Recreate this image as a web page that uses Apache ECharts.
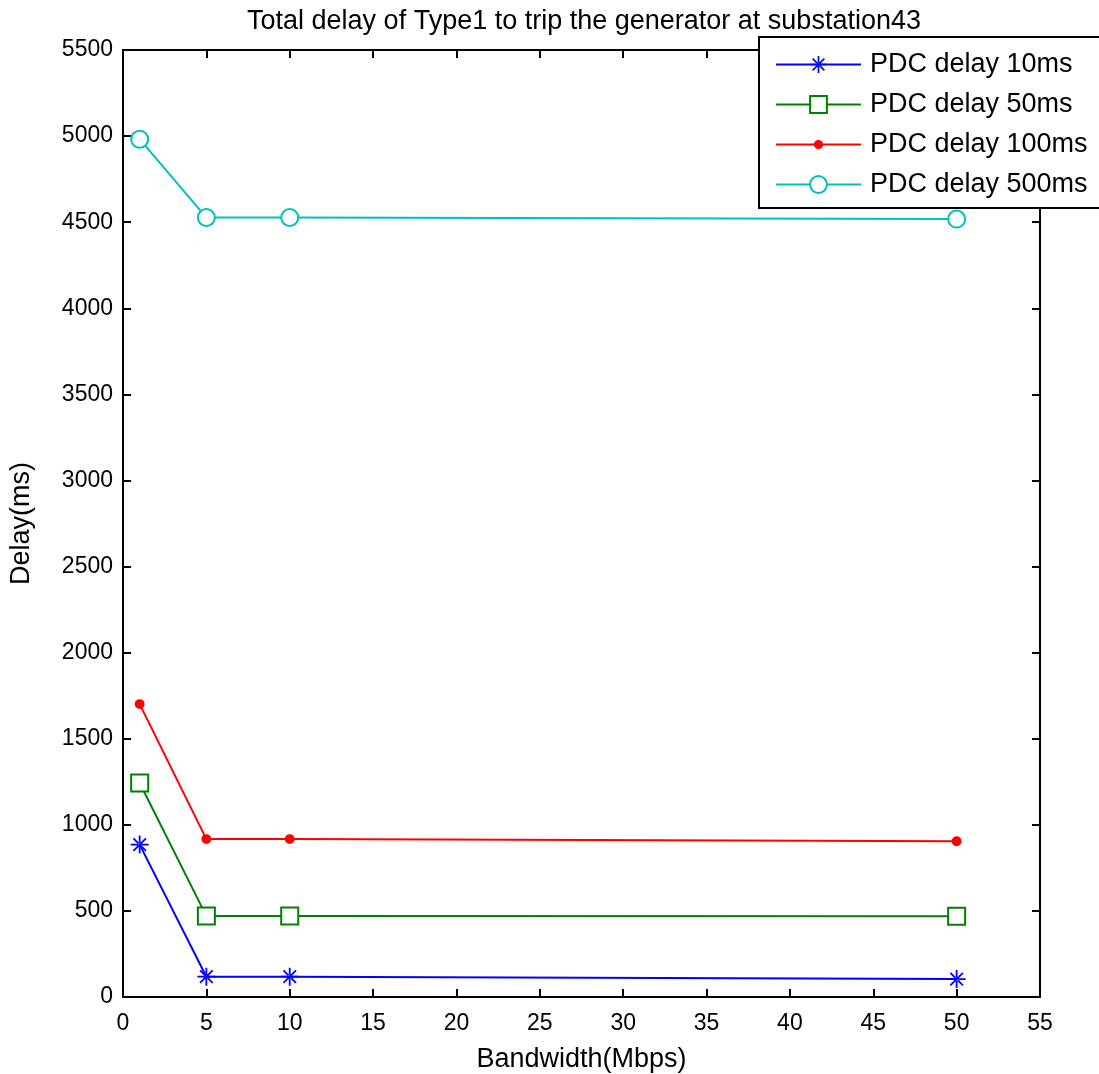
<!DOCTYPE html>
<html>
<head>
<meta charset="utf-8">
<script src="https://cdn.jsdelivr.net/npm/echarts@6/dist/echarts.min.js"></script>
<style>
  html, body { margin: 0; padding: 0; background: #fff; }
  #chart { width: 1099px; height: 1074px; }
</style>
</head>
<body>
<div id="chart"></div>
<script>
// bandwidth values (Mbps)
var bandwidth = [1, 5, 10, 50];
// total delay (ms) for each PDC delay
var delay10 = [885, 118, 118, 104];
var delay50 = [1243, 470, 470, 469];
var delay100 = [1701, 917, 917, 905];
var delay500 = [4982, 4527, 4527, 4518];

var seriesNames = ['PDC delay 10ms', 'PDC delay 50ms', 'PDC delay 100ms', 'PDC delay 500ms'];

function pairs(ys) {
  return bandwidth.map(function (x, i) { return [x, ys[i]]; });
}

// asterisk marker drawn as thin bars
var asterisk = 'path://M-1,-10L1,-10L1,10L-1,10Z' +
  'M-10,-1L10,-1L10,1L-10,1Z' +
  'M-7.7,-6.3L6.3,7.7L7.7,6.3L-6.3,-7.7Z' +
  'M-7.7,6.3L6.3,-7.7L7.7,-6.3L-6.3,7.7Z';
// small dot inside a larger (invisible) box so legend and plot sizes match
var dot = 'path://M-10,-10ZM10,10Z' +
  'M-5.5,0A5.5,5.5,0,1,1,5.5,0A5.5,5.5,0,1,1,-5.5,0Z';

var font = 'Liberation Sans, Arial, sans-serif';

var myChart = echarts.init(document.getElementById('chart'));

function axisCommon(showLabel, margin) {
  return {
    axisLine: { show: true, onZero: false, lineStyle: { color: '#000', width: 2 } },
    axisTick: { show: true, inside: true, length: 8, lineStyle: { color: '#000', width: 2 } },
    axisLabel: {
      show: showLabel, margin: margin, color: '#000', fontSize: 23, fontFamily: font,
      formatter: function (v) { return String(v); }
    },
    splitLine: { show: false }
  };
}

myChart.setOption({
  animation: false,
  title: {
    text: 'Total delay of Type1 to trip the generator at substation43',
    left: 579,
    top: 3,
    textAlign: 'center',
    textStyle: { color: '#000', fontSize: 27, fontWeight: 'normal', fontFamily: font }
  },
  legend: {
    data: seriesNames,
    orient: 'vertical',
    left: 759,
    top: 37,
    padding: [14, 60, 10, 16],
    itemWidth: 85,
    itemHeight: 21,
    itemGap: 13,
    backgroundColor: '#fff',
    borderColor: '#000',
    borderWidth: 2,
    borderRadius: 0,
    textStyle: { color: '#000', fontSize: 27, lineHeight: 26, fontFamily: font, padding: [0, 0, 0, 4] },
    z: 10
  },
  grid: { left: 123, right: 59, top: 50, bottom: 77, containLabel: false, outerBoundsMode: 'none' },
  xAxis: [
    Object.assign(axisCommon(true, 15), {
      type: 'value', min: 0, max: 55, interval: 5, position: 'bottom',
      name: 'Bandwidth(Mbps)', nameLocation: 'middle', nameGap: 49,
      nameTextStyle: { color: '#000', fontSize: 27, fontFamily: font }
    }),
    Object.assign(axisCommon(false, 8), {
      type: 'value', min: 0, max: 55, interval: 5, position: 'top'
    })
  ],
  yAxis: [
    Object.assign(axisCommon(true, 10), {
      type: 'value', min: 0, max: 5500, interval: 500, position: 'left',
      name: 'Delay(ms)', nameLocation: 'middle', nameGap: 88,
      nameTextStyle: { color: '#000', fontSize: 27, fontFamily: font }
    }),
    Object.assign(axisCommon(false, 8), {
      type: 'value', min: 0, max: 5500, interval: 500, position: 'right'
    })
  ],
  series: [
    {
      name: seriesNames[0], type: 'line', data: pairs(delay10),
      symbol: asterisk, symbolSize: 18,
      itemStyle: { color: '#0000ff' }, lineStyle: { color: '#0000ff', width: 2 }
    },
    {
      name: seriesNames[1], type: 'line', data: pairs(delay50),
      symbol: 'emptyRect', symbolSize: 17,
      itemStyle: { color: '#008000', borderWidth: 2 }, lineStyle: { color: '#008000', width: 2 }
    },
    {
      name: seriesNames[2], type: 'line', data: pairs(delay100),
      symbol: dot, symbolSize: 18,
      itemStyle: { color: '#ff0000' }, lineStyle: { color: '#ff0000', width: 2 }
    },
    {
      name: seriesNames[3], type: 'line', data: pairs(delay500),
      symbol: 'emptyCircle', symbolSize: 17,
      itemStyle: { color: '#00bfbf', borderWidth: 2 }, lineStyle: { color: '#00bfbf', width: 2 }
    }
  ]
});
</script>
</body>
</html>
